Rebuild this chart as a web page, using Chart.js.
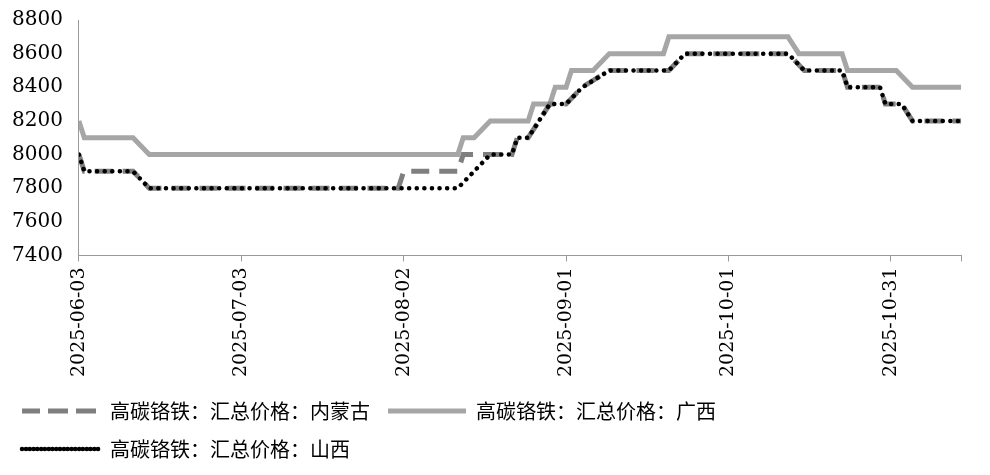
<!DOCTYPE html>
<html><head><meta charset="utf-8">
<script src="https://cdn.jsdelivr.net/npm/chart.js@4/dist/chart.umd.min.js"></script>
<style>html,body{margin:0;background:#fff}#w{width:990px;height:475px}</style>
</head><body><div id="w"><canvas id="c"></canvas></div>
<script>
const tickLabels = ['2025-06-03','2025-07-03','2025-08-02','2025-09-01','2025-10-01','2025-10-31'];
const seriesNames = ['高碳铬铁：汇总价格：内蒙古','高碳铬铁：汇总价格：广西','高碳铬铁：汇总价格：山西'];
// day offsets from 2025-06-03, with values
const nmgDays = [0,1,10,13,59,60,70,71,76,80,81,83,85,87,90,93,98,109,112,131,134,141,142,148,149,152,154,163];
const nmgVals = [8000,7900,7900,7800,7800,7900,7900,8000,8000,8000,8100,8100,8200,8300,8300,8400,8500,8500,8600,8600,8500,8500,8400,8400,8300,8300,8200,8200];
const gxDays = [0,1,10,13,70,71,73,76,83,84,87,88,90,91,95,98,108,109,131,133,141,142,151,154,163];
const gxVals = [8200,8100,8100,8000,8000,8100,8100,8200,8200,8300,8300,8400,8400,8500,8500,8600,8600,8700,8700,8600,8600,8500,8500,8400,8400];
const sxDays = [0,1,10,13,70,73,76,80,81,83,85,87,90,93,98,109,112,131,134,141,142,148,149,152,154,163];
const sxVals = [8000,7900,7900,7800,7800,7900,8000,8000,8100,8100,8200,8300,8300,8400,8500,8500,8600,8600,8500,8500,8400,8400,8300,8300,8200,8200];
const pts=(d,v)=>d.map((x,i)=>({x:x,y:v[i]}));
const font="'Noto Sans CJK SC', sans-serif";
const tfont="'DejaVu Serif', serif";
new Chart(document.getElementById('c'),{type:'line',
data:{datasets:[
{label:seriesNames[0],data:pts(nmgDays,nmgVals),borderColor:'#7f7f7f',backgroundColor:'#7f7f7f',borderWidth:5,borderDash:[18,10],pointRadius:0,order:1},
{label:seriesNames[1],data:pts(gxDays,gxVals),borderColor:'#a6a6a6',backgroundColor:'#a6a6a6',borderWidth:5,pointRadius:0,order:2},
{label:seriesNames[2],data:pts(sxDays,sxVals),borderColor:'#000',backgroundColor:'#000',borderWidth:4.5,borderDash:[0.1,7.5],borderCapStyle:'round',pointRadius:0,order:0}
]},
options:{animation:false,responsive:true,maintainAspectRatio:false,
layout:{padding:{left:4,right:12,top:12,bottom:6}},
plugins:{tooltip:{enabled:false},legend:{position:'bottom',align:'start',
 labels:{sort:(a,b)=>a.datasetIndex-b.datasetIndex,boxWidth:78,boxHeight:0,padding:18,color:'#000',font:{family:font,size:20}}}},
scales:{
 x:{type:'linear',min:0,max:163,
  ticks:{stepSize:30,autoSkip:false,maxRotation:90,minRotation:90,padding:6,color:'#000',font:{family:tfont,size:19},callback:(v)=>tickLabels[v/30]||''},
  grid:{drawOnChartArea:false,tickLength:6,color:'#999'},border:{color:'#999'}},
 y:{min:7400,max:8800,ticks:{stepSize:200,color:'#000',font:{family:tfont,size:20},padding:8,callback:(v)=>String(v)},
  grid:{display:false},border:{color:'#999'}}
}}});
</script></body></html>
